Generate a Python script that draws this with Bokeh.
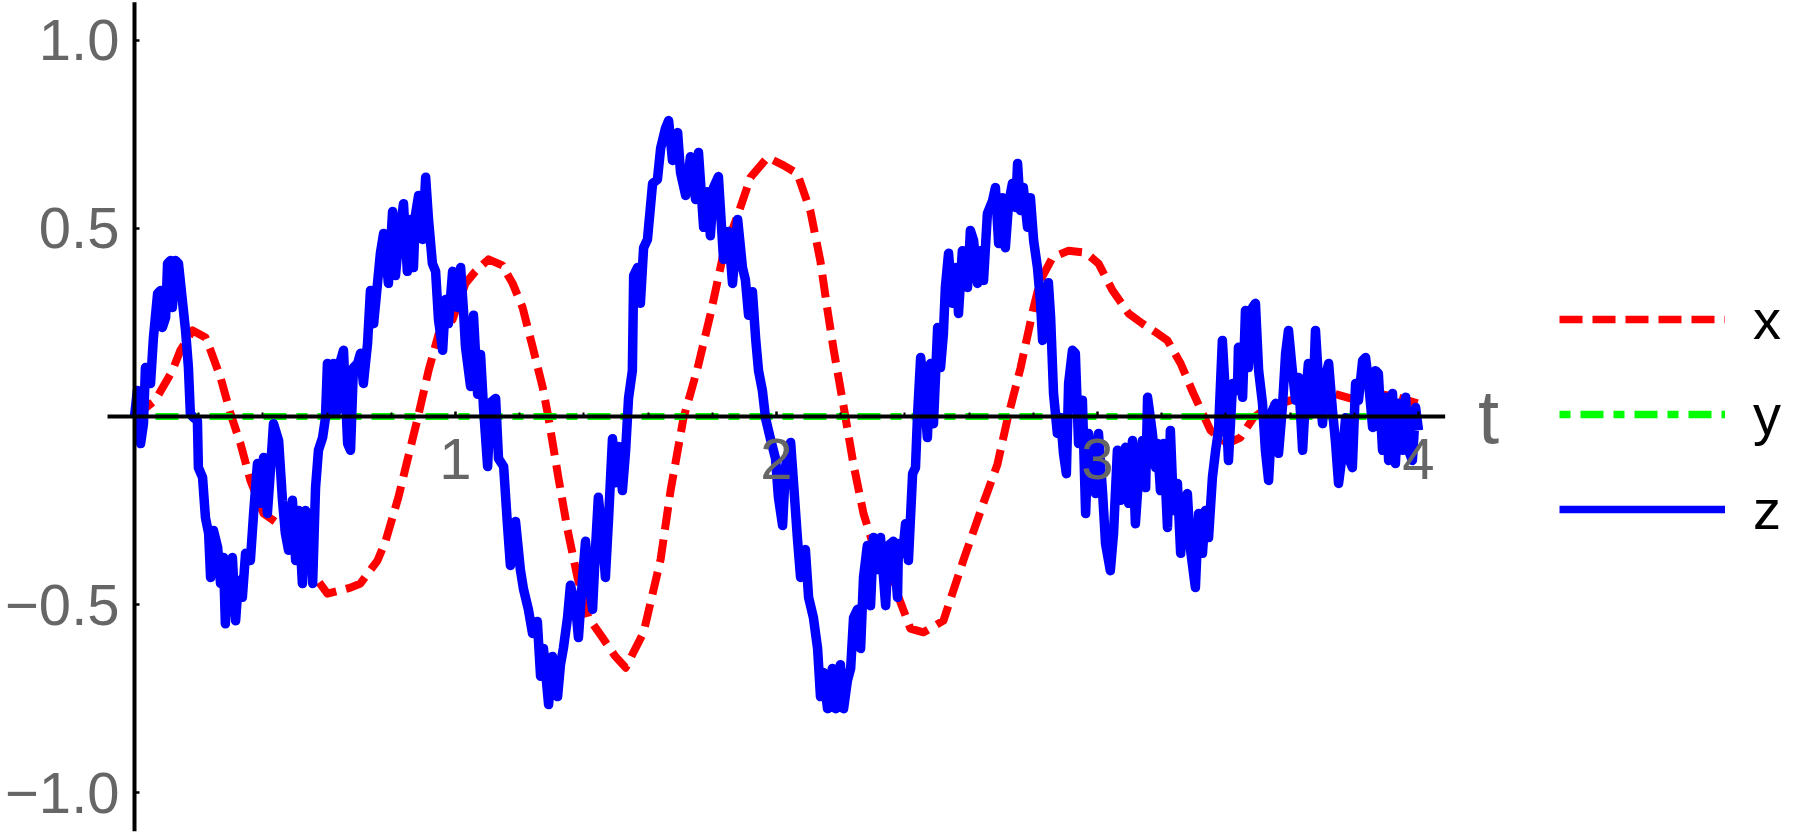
from bokeh.plotting import figure
from bokeh.models import Range1d, FixedTicker, Label, Legend, LegendItem
from bokeh.embed import file_html
from bokeh.resources import INLINE

# ---------------- data ----------------
t_x = [0.000, 0.065, 0.118, 0.143, 0.181, 0.221, 0.237, 0.268, 0.299, 0.330,
       0.361, 0.402, 0.464, 0.548, 0.601, 0.673, 0.704, 0.757, 0.782, 0.822,
       0.882, 0.916, 0.947, 0.991, 1.031, 1.062, 1.103, 1.146, 1.178, 1.209,
       1.240, 1.271, 1.290, 1.321, 1.349, 1.380, 1.414, 1.458, 1.498, 1.530,
       1.586, 1.639, 1.670, 1.710, 1.754, 1.794, 1.835, 1.879, 1.919, 1.972,
       2.022, 2.065, 2.106, 2.137, 2.159, 2.178, 2.209, 2.240, 2.271, 2.315,
       2.377, 2.417, 2.458, 2.520, 2.583, 2.645, 2.688, 2.720, 2.760, 2.801,
       2.822, 2.860, 2.910, 2.963, 3.003, 3.047, 3.097, 3.140, 3.187, 3.218,
       3.259, 3.299, 3.352, 3.405, 3.445, 3.486, 3.530, 3.601, 3.685, 3.735,
       3.810, 3.872, 3.935, 3.997]
x_vals = [0.000, 0.043, 0.122, 0.176, 0.229, 0.210, 0.176, 0.104, 0.008, -0.072,
          -0.170, -0.258, -0.295, -0.410, -0.471, -0.455, -0.444, -0.383, -0.332, -0.215,
          -0.005, 0.122, 0.218, 0.258, 0.354, 0.386, 0.418, 0.402, 0.354, 0.290,
          0.186, 0.080, -0.005, -0.165, -0.301, -0.428, -0.535, -0.588, -0.638, -0.668,
          -0.574, -0.380, -0.197, -0.005, 0.128, 0.271, 0.434, 0.535, 0.636, 0.689,
          0.668, 0.646, 0.545, 0.412, 0.282, 0.178, 0.027, -0.128, -0.258, -0.380,
          -0.473, -0.564, -0.574, -0.543, -0.380, -0.229, -0.128, -0.005, 0.128, 0.290,
          0.362, 0.423, 0.441, 0.436, 0.407, 0.335, 0.274, 0.247, 0.221, 0.202,
          0.141, 0.061, -0.037, -0.072, -0.056, -0.003, 0.024, 0.043, 0.061, 0.061,
          0.043, 0.061, 0.051, 0.035]

t_y = [0.0, 4.0]
y_vals = [0.0, 0.0]

t_z = [0.000, 0.009, 0.019, 0.028, 0.034, 0.044, 0.050, 0.059, 0.072, 0.081,
       0.087, 0.097, 0.103, 0.112, 0.118, 0.128, 0.137, 0.150, 0.159, 0.168,
       0.174, 0.184, 0.196, 0.199, 0.212, 0.221, 0.231, 0.237, 0.246, 0.259,
       0.268, 0.277, 0.283, 0.293, 0.305, 0.315, 0.324, 0.336, 0.346, 0.361,
       0.371, 0.383, 0.393, 0.402, 0.414, 0.424, 0.433, 0.449, 0.461, 0.470,
       0.480, 0.492, 0.502, 0.511, 0.523, 0.533, 0.548, 0.555, 0.564, 0.573,
       0.586, 0.595, 0.601, 0.611, 0.620, 0.632, 0.642, 0.651, 0.664, 0.673,
       0.682, 0.695, 0.704, 0.713, 0.726, 0.735, 0.745, 0.757, 0.766, 0.776,
       0.791, 0.804, 0.813, 0.822, 0.838, 0.850, 0.860, 0.869, 0.875, 0.885,
       0.897, 0.907, 0.916, 0.928, 0.938, 0.947, 0.960, 0.969, 0.978, 0.991,
       1.006, 1.016, 1.025, 1.031, 1.047, 1.056, 1.069, 1.078, 1.087, 1.100,
       1.109, 1.125, 1.134, 1.150, 1.162, 1.171, 1.187, 1.202, 1.212, 1.227,
       1.240, 1.255, 1.265, 1.274, 1.290, 1.302, 1.318, 1.327, 1.336, 1.349,
       1.358, 1.374, 1.383, 1.396, 1.405, 1.414, 1.427, 1.436, 1.445, 1.458,
       1.467, 1.477, 1.489, 1.498, 1.508, 1.520, 1.530, 1.539, 1.551, 1.555,
       1.567, 1.576, 1.586, 1.598, 1.614, 1.629, 1.639, 1.654, 1.664, 1.676,
       1.692, 1.701, 1.717, 1.732, 1.748, 1.757, 1.773, 1.785, 1.794, 1.804,
       1.819, 1.835, 1.850, 1.863, 1.879, 1.894, 1.903, 1.913, 1.925, 1.935,
       1.944, 1.956, 1.966, 1.981, 1.997, 2.006, 2.019, 2.028, 2.044, 2.053,
       2.065, 2.075, 2.090, 2.100, 2.115, 2.128, 2.137, 2.146, 2.159, 2.174,
       2.184, 2.199, 2.209, 2.221, 2.231, 2.240, 2.252, 2.262, 2.271, 2.283,
       2.293, 2.302, 2.315, 2.324, 2.340, 2.349, 2.364, 2.377, 2.380, 2.393,
       2.402, 2.411, 2.424, 2.433, 2.439, 2.449, 2.458, 2.470, 2.480, 2.489,
       2.502, 2.511, 2.520, 2.526, 2.536, 2.548, 2.558, 2.567, 2.579, 2.595,
       2.604, 2.614, 2.626, 2.636, 2.645, 2.657, 2.673, 2.682, 2.692, 2.704,
       2.713, 2.723, 2.735, 2.745, 2.751, 2.760, 2.769, 2.782, 2.791, 2.801,
       2.813, 2.822, 2.829, 2.838, 2.847, 2.854, 2.863, 2.875, 2.885, 2.894,
       2.903, 2.910, 2.922, 2.931, 2.941, 2.953, 2.963, 2.972, 2.984, 2.994,
       3.003, 3.016, 3.025, 3.040, 3.050, 3.062, 3.072, 3.087, 3.097, 3.109,
       3.118, 3.128, 3.140, 3.150, 3.156, 3.171, 3.181, 3.187, 3.196, 3.206,
       3.218, 3.227, 3.237, 3.249, 3.259, 3.268, 3.280, 3.290, 3.305, 3.315,
       3.327, 3.336, 3.346, 3.358, 3.368, 3.377, 3.389, 3.399, 3.408, 3.421,
       3.436, 3.439, 3.452, 3.461, 3.470, 3.483, 3.492, 3.502, 3.514, 3.523,
       3.533, 3.545, 3.555, 3.564, 3.576, 3.586, 3.595, 3.607, 3.617, 3.626,
       3.639, 3.648, 3.657, 3.670, 3.679, 3.688, 3.701, 3.710, 3.720, 3.732,
       3.741, 3.751, 3.763, 3.773, 3.782, 3.794, 3.804, 3.813, 3.826, 3.835,
       3.844, 3.857, 3.866, 3.875, 3.888, 3.897, 3.907, 3.919, 3.928, 3.938,
       3.950, 3.960, 3.969, 3.981, 3.991, 4.000]
z_vals = [0.000, 0.069, -0.072, -0.019, 0.130, 0.130, 0.088, 0.210, 0.327, 0.335,
          0.237, 0.263, 0.407, 0.415, 0.290, 0.415, 0.407, 0.301, 0.229, 0.130,
          0.008, -0.003, -0.011, -0.136, -0.162, -0.269, -0.311, -0.428, -0.303, -0.348,
          -0.444, -0.375, -0.551, -0.402, -0.375, -0.543, -0.436, -0.481, -0.364, -0.383,
          -0.258, -0.125, -0.231, -0.109, -0.258, -0.136, -0.019, -0.064, -0.223, -0.311,
          -0.356, -0.223, -0.383, -0.250, -0.444, -0.250, -0.277, -0.444, -0.189, -0.090,
          -0.056, -0.003, 0.141, 0.008, 0.141, 0.016, 0.149, 0.176, -0.072, -0.090,
          0.130, 0.141, 0.168, 0.088, 0.194, 0.335, 0.247, 0.354, 0.434, 0.487,
          0.354, 0.545, 0.375, 0.460, 0.566, 0.386, 0.524, 0.396, 0.535, 0.588,
          0.471, 0.636, 0.524, 0.407, 0.386, 0.258, 0.176, 0.311, 0.247, 0.386,
          0.290, 0.396, 0.279, 0.186, 0.080, 0.269, 0.059, 0.165, 0.027, -0.133,
          0.037, 0.048, -0.112, -0.133, -0.290, -0.396, -0.279, -0.407, -0.460, -0.513,
          -0.577, -0.545, -0.691, -0.617, -0.766, -0.638, -0.745, -0.660, -0.617, -0.535,
          -0.449, -0.503, -0.588, -0.428, -0.332, -0.428, -0.513, -0.354, -0.215, -0.322,
          -0.428, -0.269, -0.059, -0.176, -0.080, -0.197, -0.090, 0.048, 0.122, 0.375,
          0.396, 0.301, 0.449, 0.471, 0.620, 0.630, 0.713, 0.766, 0.787, 0.681,
          0.755, 0.649, 0.588, 0.691, 0.577, 0.702, 0.503, 0.598, 0.481, 0.609,
          0.638, 0.418, 0.492, 0.354, 0.524, 0.396, 0.364, 0.269, 0.332, 0.207,
          0.122, 0.069, -0.005, -0.059, -0.112, -0.215, -0.290, -0.133, -0.069, -0.176,
          -0.322, -0.428, -0.354, -0.481, -0.535, -0.617, -0.745, -0.681, -0.777, -0.670,
          -0.777, -0.660, -0.777, -0.702, -0.670, -0.535, -0.513, -0.617, -0.428, -0.343,
          -0.503, -0.322, -0.407, -0.322, -0.503, -0.343, -0.332, -0.481, -0.338, -0.364,
          -0.285, -0.383, -0.152, -0.136, -0.003, 0.157, 0.088, -0.056, 0.141, -0.019,
          0.237, 0.130, 0.221, 0.343, 0.434, 0.301, 0.396, 0.274, 0.441, 0.343,
          0.495, 0.468, 0.354, 0.441, 0.362, 0.540, 0.574, 0.609, 0.460, 0.582,
          0.449, 0.566, 0.620, 0.556, 0.673, 0.548, 0.609, 0.503, 0.582, 0.468,
          0.396, 0.309, 0.202, 0.221, 0.356, 0.263, 0.061, -0.045, -0.003, -0.098,
          -0.152, 0.088, 0.176, 0.168, -0.072, 0.043, -0.258, -0.045, -0.136, -0.205,
          -0.045, -0.205, -0.338, -0.410, -0.311, -0.090, -0.223, -0.082, -0.231, -0.064,
          -0.285, -0.162, -0.064, -0.189, 0.051, -0.045, -0.136, -0.072, -0.197, -0.072,
          -0.295, -0.037, -0.250, -0.178, -0.364, -0.231, -0.205, -0.356, -0.455, -0.258,
          -0.364, -0.250, -0.322, -0.162, -0.090, -0.037, 0.202, 0.051, -0.117, 0.088,
          0.069, 0.184, 0.051, 0.282, 0.130, 0.290, 0.301, 0.122, 0.035, -0.090,
          -0.170, 0.016, 0.035, -0.098, 0.024, 0.168, 0.229, 0.122, 0.043, 0.104,
          -0.090, 0.051, 0.141, 0.008, 0.229, 0.104, -0.019, 0.104, 0.141, 0.016,
          -0.064, -0.178, -0.098, -0.003, -0.109, -0.136, 0.088, 0.043, 0.149, 0.157,
          0.096, -0.029, 0.122, 0.114, -0.090, 0.051, -0.117, 0.061, -0.125, 0.035,
          -0.090, 0.051, -0.090, -0.117, 0.024, -0.037]

series_names = ["x", "y", "z"]
x_ticks = [1, 2, 3, 4]
x_tick_labels = ["1", "2", "3", "4"]
x_minor_ticks = [0.2, 0.4, 0.6, 0.8, 1.2, 1.4, 1.6, 1.8, 2.2, 2.4, 2.6, 2.8,
                 3.2, 3.4, 3.6, 3.8]
y_ticks = [-1.0, -0.5, 0.5, 1.0]
y_tick_labels = ["\u22121.0", "\u22120.5", "0.5", "1.0"]
axis_label = "t"

# extents of the drawn axis lines (plot range of the original)
X_AXIS_FROM, X_AXIS_TO = -0.084, 4.083
Y_AXIS_FROM, Y_AXIS_TO = -1.103, 1.102

# ---------------- figure ----------------
FONT = "Liberation Sans"
GRAY = "#666666"
RED, GREEN, BLUE = "#ff0000", "#00ff00", "#0000ff"
DASH_X, DASH_Y = "23 10", "11 10 23 10"

p = figure(width=1802, height=834,
           x_range=Range1d(-0.41745, 5.19626), y_range=Range1d(-1.11170, 1.10638),
           output_backend="svg", toolbar_location=None,
           min_border_left=0, min_border_right=0,
           min_border_top=0, min_border_bottom=0)
p.outline_line_color = None
p.xgrid.visible = False
p.ygrid.visible = False
p.background_fill_color = "white"
p.border_fill_color = "white"

p.line(t_x, x_vals, line_color=RED, line_width=8,
       line_dash=DASH_X, line_join="round")
p.line(t_y, y_vals, line_color=GREEN, line_width=7, line_dash=DASH_Y)
p.line(t_z, z_vals, line_color=BLUE, line_width=9.5, line_join="round")

# legend swatches: single-point lines (draw nothing in the plot) carrying
# the legend-sized stroke of each series
k_x = p.line(t_y[:1], y_vals[:1], line_color=RED, line_width=7.3, line_dash=DASH_X)
k_y = p.line(t_y[:1], y_vals[:1], line_color=GREEN, line_width=7.3, line_dash=DASH_Y)
k_z = p.line(t_y[:1], y_vals[:1], line_color=BLUE, line_width=7.7)

# axis lines (Mathematica style, crossing at the origin)
p.segment(x0=[X_AXIS_FROM, 0], y0=[0, Y_AXIS_FROM],
          x1=[X_AXIS_TO, 0], y1=[0, Y_AXIS_TO],
          line_color="black", line_width=4)

xa = p.xaxis[0]
ya = p.yaxis[0]
for ax in (xa, ya):
    ax.fixed_location = 0
    ax.axis_line_color = None
    ax.major_tick_line_color = "black"
    ax.major_tick_line_width = 2.5
    ax.major_tick_out = 0
    ax.major_tick_in = 5
    ax.minor_tick_out = 0
    ax.major_label_text_font = FONT
    ax.major_label_text_font_size = "58px"
    ax.major_label_text_color = GRAY

xa.ticker = FixedTicker(ticks=x_ticks, minor_ticks=x_minor_ticks)
xa.minor_tick_in = 4
xa.minor_tick_line_color = "black"
xa.minor_tick_line_width = 2
xa.major_label_overrides = {float(k): v for k, v in zip(x_ticks, x_tick_labels)}
xa.major_label_standoff = 23

ya.ticker = FixedTicker(ticks=y_ticks, minor_ticks=[])
ya.minor_tick_in = 0
ya.minor_tick_line_color = None
ya.major_label_overrides = {float(k): v for k, v in zip(y_ticks, y_tick_labels)}
ya.major_label_standoff = 15

p.add_layout(Label(x=4.218, y=0, text=axis_label, text_font=FONT,
                   text_font_size="76px", text_color=GRAY,
                   text_align="center", text_baseline="middle"))

legend = Legend(items=[LegendItem(label=series_names[0], renderers=[k_x]),
                       LegendItem(label=series_names[1], renderers=[k_y]),
                       LegendItem(label=series_names[2], renderers=[k_z])],
                location=(1559, 290), orientation="vertical",
                glyph_width=166, glyph_height=70, label_height=70,
                spacing=25, label_standoff=28, padding=0, margin=0,
                border_line_color=None, background_fill_alpha=0,
                label_text_font=FONT, label_text_font_size="56px",
                label_text_color="black")
p.add_layout(legend)

open("out.html", "w").write(file_html(p, INLINE))
